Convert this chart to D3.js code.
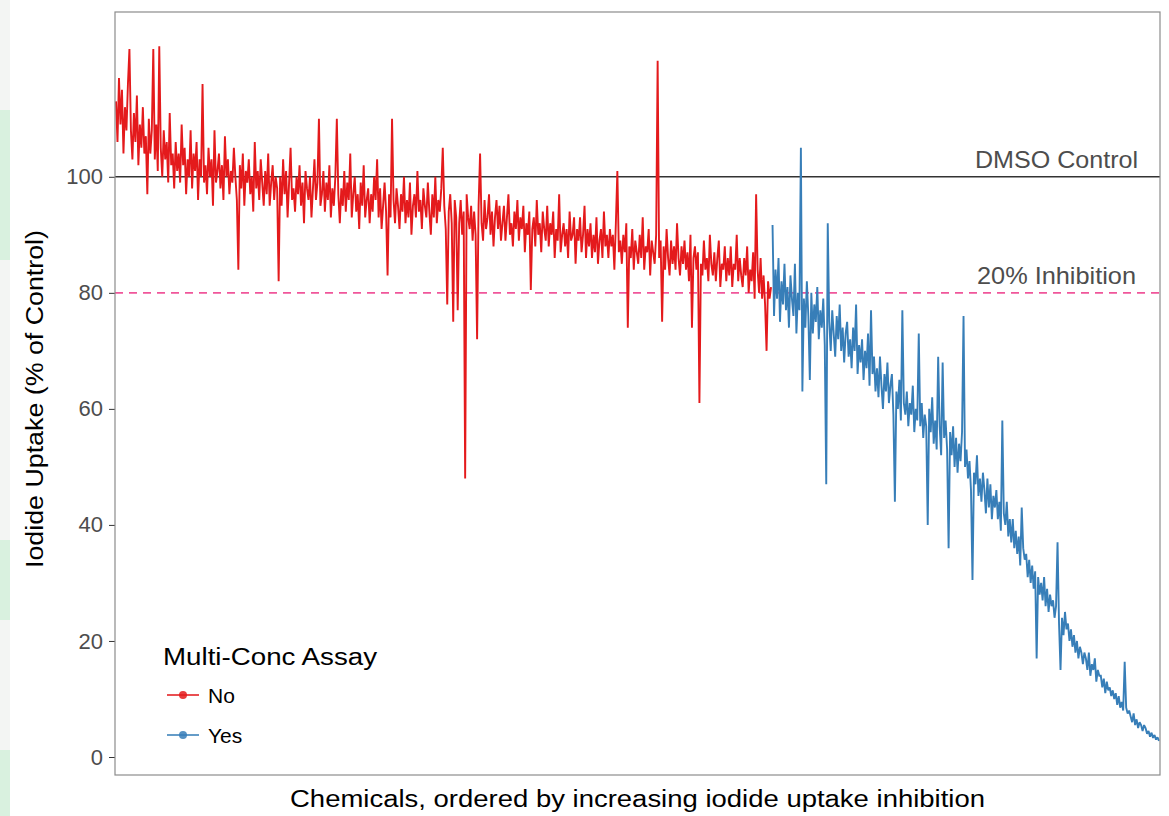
<!DOCTYPE html>
<html>
<head>
<meta charset="UTF-8">
<title>Iodide uptake</title>
<style>
  body { margin: 0; background: #fff; }
  svg { font-family: "Liberation Sans", Arial, sans-serif; display: block; }
</style>
</head>
<body>
<script src="https://d3js.org/d3.v7.min.js"></script>
<script>
// chemicals without multi-conc follow-up (ordered), % of control
var noValues = [
  113, 106, 117, 109, 115, 104, 112, 108, 116, 122,
  108, 103, 111, 106, 114, 102, 109, 105, 112, 104,
  107, 97, 110, 104, 108, 122, 103, 109, 101, 122.5,
  105, 100, 108, 103, 106, 99, 111, 102, 104, 98,
  106, 101, 104, 99, 109, 102, 105, 97, 103, 100,
  108, 98, 104, 101, 106, 96, 103, 100, 116, 99,
  102, 97, 105, 100, 103, 95, 108, 99, 101, 104,
  98, 102, 96, 107, 100, 103, 97, 101, 99, 105,
  100, 96, 84, 102, 98, 104, 95, 101, 99, 103,
  97, 100, 94, 106, 98, 101, 96, 103, 99, 95,
  101, 97, 104, 95, 99, 102, 96, 100, 98, 82,
  100, 95, 103, 97, 101, 93, 99, 105, 96, 98,
  94, 100, 97, 102, 95, 99, 92, 101, 98, 96,
  100, 93, 98, 103, 96, 99, 110, 95, 97, 101,
  94, 99, 96, 102, 93, 98, 95, 100, 110, 97,
  92, 98, 95, 101, 94, 99, 96, 104, 93, 97,
  100, 94, 97, 91, 99, 95, 102, 93, 96, 98,
  92, 97, 94, 100, 96, 103, 93, 98, 91, 95,
  99, 94, 83, 97, 93, 110, 96, 92, 98, 95,
  91, 97, 94, 100, 92, 96, 93, 99, 90, 95,
  97, 93, 101, 94, 96, 91, 98, 95, 93, 99,
  94, 90, 97, 93, 100, 92, 96, 94, 98, 105,
  95, 91, 78, 94, 97, 92, 75, 96, 93, 77,
  92, 96, 90, 94, 48, 97, 93, 91, 95, 89,
  94, 90, 72, 95, 104, 92, 89, 96, 91, 93,
  97, 90, 94, 88, 93, 96, 91, 95, 89, 92,
  95, 89, 93, 97, 90, 92, 88, 94, 91, 96,
  89, 93, 91, 95, 87, 92, 90, 94, 80.5, 91,
  93, 88, 96, 90, 92, 87, 94, 91, 89, 95,
  88, 92, 90, 94, 86, 91, 89, 97, 87, 90,
  92, 88, 91, 86, 94, 89, 90, 93, 85, 91,
  89, 93, 87, 90, 95, 86, 91, 88, 92, 86,
  90, 87, 93, 85, 89, 91, 86, 94, 88, 90,
  86, 91, 88, 90, 84, 92, 101, 87, 89, 85,
  90, 87, 92, 74, 88, 86, 91, 84, 89, 87,
  85, 90, 86, 93, 84, 88, 87, 91, 83, 89,
  87, 85, 90, 120, 86, 89, 75, 88, 84, 91,
  86, 83, 89, 85, 88, 84, 92, 86, 83, 88,
  85, 89, 84, 87, 82, 90, 74, 86, 88, 84,
  87, 61, 85, 83, 89, 84, 86, 82, 90, 85,
  83, 87, 82, 86, 89, 81, 85, 84, 88, 82,
  86, 83, 88, 81, 85, 84, 90, 82, 86, 83,
  81, 86, 83, 88, 80, 84, 82, 87, 79, 97,
  84, 80, 86, 79, 83, 78, 70, 82, 79, 81
];

// chemicals sent to the multi-conc assay
var yesValues = [
  91.7, 76, 84, 79, 86, 75, 82, 78, 85, 77,
  81, 74, 83, 79, 76, 85, 73, 80, 77, 105,
  63, 79, 74, 82, 76, 65, 80, 73, 78, 75,
  81, 72, 77, 74, 79, 71, 47, 92, 75, 70,
  77, 73, 69, 76, 72, 78, 70, 74, 68, 73,
  75, 69, 72, 67, 74, 70, 78, 66, 71, 68,
  72, 65, 70, 67, 73, 64, 77, 66, 69, 63,
  67, 62, 69, 64, 60, 66, 63, 68, 61, 64,
  66, 59, 44, 63, 60, 65, 58, 77, 61, 59,
  63, 57, 61, 59, 64, 56, 60, 58, 73, 57,
  61, 55, 59, 57, 40, 60, 56, 62, 54, 58,
  53, 69, 57, 52, 68, 55, 58, 53, 36, 56,
  52, 57, 50, 55, 49, 54, 51, 56, 76, 50,
  53, 48, 51, 46, 30.5, 49, 47, 52, 45, 48,
  44, 49, 46, 42, 48, 43, 47, 41, 45, 43,
  46, 41, 44, 39, 58, 42, 40, 44, 38, 41,
  37, 41, 36, 39, 35, 38, 33, 43, 36, 34,
  35, 31, 34, 30, 33, 29, 32, 17, 31, 28,
  30, 27, 31, 26, 29, 25, 28, 26, 27, 24,
  26, 37, 23, 15, 24, 21, 25, 22, 23, 20,
  22, 19, 21, 18, 20, 17, 19, 18, 16, 18,
  17, 15, 18, 14, 16, 15, 17, 13, 15, 14,
  14, 12, 13.5, 11, 13, 11.5, 12, 10.5, 11.5, 10,
  11, 9, 10.5, 8.5, 9.5, 8, 16.4, 8.5, 7.5, 8,
  7, 6, 7.5, 5.5, 6.5, 5, 6, 5.5, 4.5, 5.5,
  5, 4, 4.5, 3.5, 4.2, 3.3, 3.8, 3, 3.4, 2.8
];

var yTicks = [0, 20, 40, 60, 80, 100];
var legendLabels = ["No", "Yes"];
var refLines = [
  { value: 100, label: "DMSO Control" },
  { value: 80, label: "20% Inhibition" }
];

var W = 1169, H = 816;
var panel = { left: 115, right: 1160, top: 12, bottom: 775 };
var colors = { No: "#e41a1c", Yes: "#377eb8" };

// stretch a text to a given width
function fit(sel, w) {
  sel.attr("textLength", w).attr("lengthAdjust", "spacingAndGlyphs");
  return sel;
}

var svg = d3.select("body").append("svg")
  .attr("width", W).attr("height", H);

// faint page decoration at the left edge
svg.append("rect").attr("x", 0).attr("y", 0).attr("width", 10).attr("height", H).attr("fill", "#f3f5f3");
[[110, 150], [540, 80], [750, 66]].forEach(function (r) {
  svg.append("rect").attr("x", 0).attr("y", r[0]).attr("width", 10).attr("height", r[1]).attr("fill", "#d9f1df");
});

var nTotal = noValues.length + yesValues.length;
var series = [
  { key: "No", values: noValues.map(function (v, i) { return { i: i, v: v }; }) },
  { key: "Yes", values: yesValues.map(function (v, i) { return { i: i + noValues.length, v: v }; }) }
];

var x = d3.scaleLinear().domain([0, nTotal - 1]).range([panel.left + 1, panel.right - 1]);
var y = d3.scaleLinear().domain([-3.1, 128.4]).range([panel.bottom, panel.top]);

// y axis
var yAxis = d3.axisLeft(y).tickValues(yTicks).tickSize(6).tickPadding(6);
var gy = svg.append("g")
  .attr("transform", "translate(" + panel.left + ",0)")
  .call(yAxis);
gy.select(".domain").remove();
gy.selectAll(".tick line").attr("stroke", "#333").attr("stroke-width", 1);
gy.selectAll(".tick text").attr("fill", "#4d4d4d").style("font-size", "22px");

// reference lines
svg.append("line")
  .attr("x1", panel.left).attr("x2", panel.right)
  .attr("y1", y(100)).attr("y2", y(100))
  .attr("stroke", "#333").attr("stroke-width", 1.6);
svg.append("line")
  .attr("x1", panel.left).attr("x2", panel.right)
  .attr("y1", y(80)).attr("y2", y(80))
  .attr("stroke", "#f0569a").attr("stroke-width", 1.6)
  .attr("stroke-dasharray", "8,6");

// series lines
var line = d3.line()
  .x(function (d) { return x(d.i); })
  .y(function (d) { return y(d.v); });

svg.selectAll(".series")
  .data(series)
  .enter().append("path")
  .attr("class", "series")
  .attr("fill", "none")
  .attr("stroke", function (d) { return colors[d.key]; })
  .attr("stroke-width", 1.9)
  .attr("stroke-linejoin", "miter")
  .attr("stroke-miterlimit", 2)
  .attr("d", function (d) { return line(d.values); });

// reference labels
fit(svg.append("text")
  .attr("x", 1138).attr("y", 168)
  .attr("text-anchor", "end").attr("fill", "#4d4d4d")
  .style("font-size", "24px")
  .text(refLines[0].label), 163);
fit(svg.append("text")
  .attr("x", 1136).attr("y", 284)
  .attr("text-anchor", "end").attr("fill", "#4d4d4d")
  .style("font-size", "24px")
  .text(refLines[1].label), 159);

// panel border
svg.append("rect")
  .attr("x", panel.left).attr("y", panel.top)
  .attr("width", panel.right - panel.left).attr("height", panel.bottom - panel.top)
  .attr("fill", "none").attr("stroke", "#8c8c8c").attr("stroke-width", 1.2);

// axis titles
fit(svg.append("text")
  .attr("x", 637.5).attr("y", 807)
  .attr("text-anchor", "middle").attr("fill", "#000")
  .style("font-size", "23px")
  .text("Chemicals, ordered by increasing iodide uptake inhibition"), 695);

fit(svg.append("text")
  .attr("transform", "translate(43,399) rotate(-90)")
  .attr("text-anchor", "middle").attr("fill", "#000")
  .style("font-size", "23px")
  .text("Iodide Uptake (% of Control)"), 338);

// legend
fit(svg.append("text").attr("x", 163).attr("y", 665)
  .attr("fill", "#000").style("font-size", "23px")
  .text("Multi-Conc Assay"), 214);
var items = svg.selectAll(".item")
  .data(legendLabels)
  .enter().append("g")
  .attr("class", "item")
  .attr("transform", function (d, i) { return "translate(163," + (695 + i * 40) + ")"; });
items.append("line")
  .attr("x1", 4).attr("x2", 36)
  .attr("stroke", function (d) { return colors[d]; })
  .attr("stroke-width", 1.8).attr("opacity", 0.85);
items.append("circle")
  .attr("cx", 20).attr("r", 4)
  .attr("fill", function (d) { return colors[d]; }).attr("opacity", 0.85);
items.append("text")
  .attr("x", 45).attr("y", 8)
  .attr("fill", "#000").style("font-size", "21px")
  .text(function (d) { return d; });
</script>
</body>
</html>
